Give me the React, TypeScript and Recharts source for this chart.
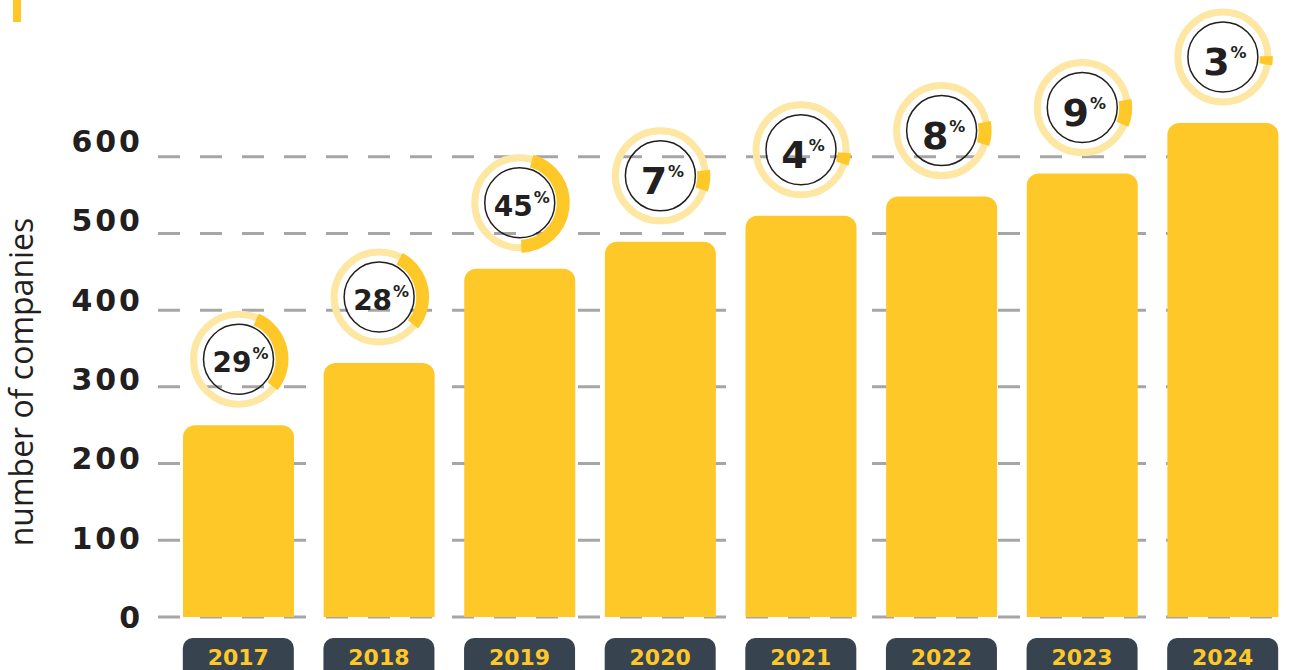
import { BarChart, Bar, XAxis, YAxis, CartesianGrid, LabelList } from 'recharts'

const years = ['2017', '2018', '2019', '2020', '2021', '2022', '2023', '2024']
const companies = [250, 331, 454, 489, 523, 548, 578, 644]
const growth = [29, 28, 45, 7, 4, 8, 9, 3]
const yTicks = [0, 100, 200, 300, 400, 500, 600]

// where each progress arc starts, degrees clockwise from 12 o'clock
const arcStart = [24, 28, 16, 83, 94, 79, 80, 89]

const YELLOW = '#fec828'
const PALE = '#fde7a3'
const DARK = '#231f20'
const PILL = '#37434f'
const FONT = '"DejaVu Sans", sans-serif'

const data = years.map((year, i) => ({ year, companies: companies[i], growth: growth[i] }))

function polar(cx: number, cy: number, r: number, deg: number) {
  const a = (deg * Math.PI) / 180
  return [cx + r * Math.sin(a), cy - r * Math.cos(a)]
}

function arcPath(cx: number, cy: number, r: number, from: number, to: number) {
  const [x0, y0] = polar(cx, cy, r, from)
  const [x1, y1] = polar(cx, cy, r, to)
  const large = to - from > 180 ? 1 : 0
  return `M ${x0} ${y0} A ${r} ${r} 0 ${large} 1 ${x1} ${y1}`
}

function Badge(props: any) {
  const { x, y, width, index } = props
  const pct = growth[index]
  const cx = x + width / 2
  const cy = y - 66
  const start = arcStart[index]
  const single = pct < 10
  return (
    <g>
      <circle cx={cx} cy={cy} r={45} fill="none" stroke={PALE} strokeWidth={7} />
      <path d={arcPath(cx, cy, 43.5, start, start + pct * 3.6)} fill="none" stroke={YELLOW} strokeWidth={13} />
      <circle cx={cx} cy={cy} r={35} fill="none" stroke={DARK} strokeWidth={1.5} />
      <text
        x={cx + 2}
        y={cy + (single ? 18 : 13)}
        textAnchor="middle"
        fontFamily={FONT}
        fontWeight={700}
        fontSize={single ? 38 : 28}
        fill={DARK}
      >
        {pct}
        <tspan fontSize={16} dx={1} dy={single ? -17 : -13}>%</tspan>
      </text>
    </g>
  )
}

function YearTick(props: any) {
  const { x, y, payload } = props
  return (
    <g>
      <rect x={x - 55.5} y={y + 21} width={111} height={42} rx={10} fill={PILL} />
      <text x={x} y={y + 48} textAnchor="middle" fontFamily={FONT} fontWeight={700} fontSize={22} fill={YELLOW}>
        {payload.value}
      </text>
    </g>
  )
}

function ValueTick(props: any) {
  const { x, y, payload } = props
  return (
    <text
      x={x - 15}
      y={y + 11 - (payload.value / 100) * 2.6}
      textAnchor="end"
      fontFamily={FONT}
      fontWeight={700}
      fontSize={30}
      letterSpacing={3}
      fill={DARK}
    >
      {payload.value}
    </text>
  )
}

function AxisTitle() {
  return (
    <text
      x={33}
      y={382}
      transform="rotate(-90, 33, 382)"
      textAnchor="middle"
      fontFamily='"Open Sans", sans-serif'
      fontSize={32}
      fill={DARK}
    >
      number of companies
    </text>
  )
}

export default function App() {
  return (
    <div style={{ position: 'absolute', left: 0, top: 0, width: 1291, height: 670, overflow: 'hidden', background: '#fff' }}>
      <div style={{ position: 'absolute', left: 13, top: 0, width: 8, height: 22, background: YELLOW }} />
      <BarChart width={1293} height={670} data={data} margin={{ top: 80, right: 0, left: 0, bottom: 3 }}>
        <CartesianGrid
          vertical={false}
          horizontalValues={yTicks}
          stroke="#a6a6a6"
          strokeWidth={3}
          strokeDasharray="22 20"
        />
        <XAxis
          dataKey="year"
          axisLine={false}
          tickLine={false}
          tickSize={0}
          tickMargin={0}
          height={50}
          interval={0}
          padding={{ left: 10, right: 0 }}
          tick={<YearTick />}
        />
        <YAxis
          domain={[0, 700]}
          ticks={yTicks}
          axisLine={false}
          tickLine={false}
          tickSize={0}
          tickMargin={0}
          width={158}
          tick={<ValueTick />}
          label={<AxisTitle />}
        />
        <Bar dataKey="companies" fill={YELLOW} barSize={111} radius={[12, 12, 0, 0]} isAnimationActive={false}>
          <LabelList dataKey="growth" content={<Badge />} />
        </Bar>
      </BarChart>
    </div>
  )
}
